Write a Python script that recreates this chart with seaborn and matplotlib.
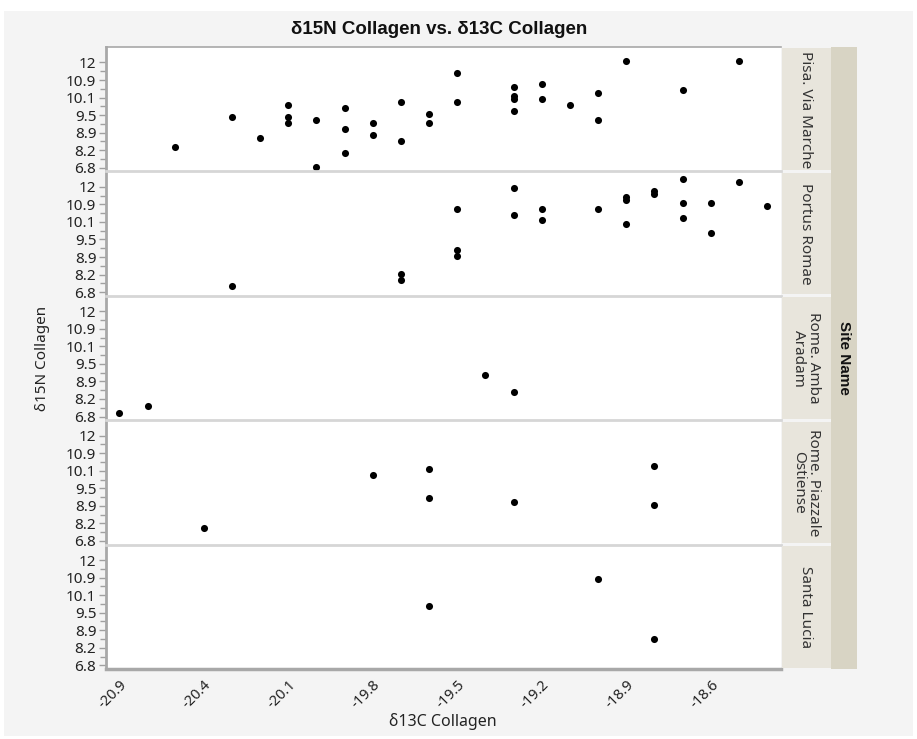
import numpy as np
import pandas as pd
import seaborn as sns
import matplotlib
matplotlib.use('Agg')
import matplotlib.pyplot as plt
from matplotlib.patches import Rectangle

# values (axis units as labelled)
sites = ['Pisa. Via Marche', 'Portus Romae', 'Rome. Amba\nAradam',
         'Rome. Piazzale\nOstiense', 'Santa Lucia']

pisa_x = [-20.57, -20.3, -20.2, -20.1, -20.1, -20.1, -20.0, -20.0, -19.9, -19.9, -19.9,
          -19.8, -19.8, -19.7, -19.7, -19.6, -19.6, -19.5, -19.5, -19.3, -19.3, -19.3,
          -19.3, -19.2, -19.2, -19.1, -19.0, -19.0, -18.9, -18.7, -18.5]
pisa_y = [8.33, 9.43, 8.70, 9.84, 9.43, 9.23, 9.33, 6.82, 9.73, 9.02, 7.99,
          9.23, 8.82, 9.94, 8.57, 9.54, 9.23, 11.37, 9.94, 10.58, 10.17, 10.05,
          9.64, 10.70, 10.05, 9.84, 10.31, 9.33, 12.12, 10.44, 12.12]

portus_x = [-20.3, -19.7, -19.7, -19.5, -19.5, -19.5, -19.3, -19.3, -19.2, -19.2, -19.0,
            -18.9, -18.9, -18.9, -18.8, -18.8, -18.7, -18.7, -18.7, -18.6, -18.6, -18.5, -18.4]
portus_y = [7.28, 8.21, 7.74, 10.70, 9.13, 8.93, 11.90, 10.41, 10.70, 10.17, 10.70,
            11.37, 11.19, 10.02, 11.73, 11.54, 12.50, 11.00, 10.29, 11.00, 9.73, 12.30, 10.82]

amba_x = [-20.9, -20.73, -19.4, -19.3]
amba_y = [7.12, 7.60, 9.13, 8.47]

ostiense_x = [-20.4, -19.8, -19.6, -19.6, -19.3, -18.8, -18.8]
ostiense_y = [7.81, 9.96, 10.18, 9.16, 9.04, 10.32, 8.94]

lucia_x = [-19.6, -19.0, -18.8]
lucia_y = [9.74, 10.85, 8.57]

x_ticks = [-20.9, -20.4, -20.1, -19.8, -19.5, -19.2, -18.9, -18.6]
x_tick_labels = ['-20.9', '-20.4', '-20.1', '-19.8', '-19.5', '-19.2', '-18.9', '-18.6']
y_ticks = [6.8, 8.2, 8.9, 9.5, 10.1, 10.9, 12]
y_tick_labels = ['6.8', '8.2', '8.9', '9.5', '10.1', '10.9', '12']

frames = []
for name, xs, ys in zip(sites, [pisa_x, portus_x, amba_x, ostiense_x, lucia_x],
                        [pisa_y, portus_y, amba_y, ostiense_y, lucia_y]):
    frames.append(pd.DataFrame({'Site Name': name, 'd13C': xs, 'd15N': ys}))
df = pd.concat(frames, ignore_index=True)

# the axes put the labelled ticks at equal distances
x_knots = np.array([x_ticks[0] - 0.5] + x_ticks + [x_ticks[-1] + 0.3, x_ticks[-1] + 0.6])
x_pos = np.arange(len(x_knots)) - 1.0
y_knots = np.array([y_ticks[0] - 1.4] + y_ticks + [y_ticks[-1] + 1.1])
y_pos = np.arange(len(y_knots)) - 1.0


def fwd_x(v):
    return np.interp(v, x_knots, x_pos)


def inv_x(p):
    return np.interp(p, x_pos, x_knots)


def fwd_y(v):
    return np.interp(v, y_knots, y_pos)


def inv_y(p):
    return np.interp(p, y_pos, y_knots)


sns.set_theme(style='white')
plt.rcParams['font.family'] = ['Noto Sans', 'DejaVu Sans']
bold_font = ['Liberation Sans', 'DejaVu Sans']

g = sns.relplot(data=df, x='d13C', y='d15N', row='Site Name', row_order=sites,
                color='black', s=26, linewidth=0, height=1.4, aspect=5,
                facet_kws={'sharex': True, 'sharey': True, 'despine': False})
g.set_titles('')
fig = g.figure
fig.set_size_inches(9.17, 7.39)

W, H = 917, 739


def fx(px):
    return px / W


def fy(py):
    return 1 - py / H


plot_left, plot_right, plot_top, plot_bottom = 106, 781, 47, 669
panel_h = (plot_bottom - plot_top) / 5
axes = list(g.axes.flat)
y_minor = inv_y(np.arange(6) + 0.5)

for i, ax in enumerate(axes):
    top = plot_top + i * panel_h
    ax.set_position([fx(plot_left), fy(top + panel_h), (plot_right - plot_left) / W, panel_h / H])
    ax.set_xscale('function', functions=(fwd_x, inv_x))
    ax.set_yscale('function', functions=(fwd_y, inv_y))
    ax.set_xlim(-20.978, -18.351)
    ax.set_ylim(6.506, 12.97)
    ax.set_yticks(y_ticks, labels=y_tick_labels)
    ax.set_yticks(y_minor, minor=True)
    ax.set_xticks(x_ticks, labels=x_tick_labels)
    ax.set_xticks([], minor=True)
    ax.set_xlabel('')
    ax.set_ylabel('')
    ax.set_facecolor('white')
    ax.tick_params(axis='y', which='major', direction='out', length=5, width=1,
                   color='#a0a0a0', labelsize=11, labelcolor='#222222', pad=2, left=True)
    ax.tick_params(axis='y', which='minor', direction='out', length=4, width=1,
                   color='#a0a0a0', left=True)
    ax.tick_params(axis='x', length=0, pad=6, labelsize=10.5, labelcolor='#222222')
    ax.spines['right'].set_visible(False)
    ax.spines['left'].set_color('#a8a8a8')
    ax.spines['left'].set_linewidth(2)
    if i == 0:
        ax.spines['top'].set_color('#a8a8a8')
        ax.spines['top'].set_linewidth(1.2)
    else:
        ax.spines['top'].set_color('#d6d6d6')
        ax.spines['top'].set_linewidth(2)
    if i == len(axes) - 1:
        ax.spines['bottom'].set_color('#a8a8a8')
        ax.spines['bottom'].set_linewidth(2.5)
    else:
        ax.spines['bottom'].set_visible(False)

for lbl in axes[-1].get_xticklabels():
    lbl.set_rotation(45)
    lbl.set_ha('right')
    lbl.set_va('top')
    lbl.set_rotation_mode('anchor')

# background and strips
fig.add_artist(Rectangle((fx(4), fy(736)), (913 - 4) / W, (736 - 11) / H,
                         transform=fig.transFigure, facecolor='#f4f4f4',
                         edgecolor='none', zorder=-5))
fig.add_artist(Rectangle((fx(831), fy(plot_bottom)), (857 - 831) / W,
                         (plot_bottom - plot_top) / H, transform=fig.transFigure,
                         facecolor='#d8d4c4', edgecolor='none', zorder=1))
for i, name in enumerate(sites):
    top = plot_top + i * panel_h
    fig.add_artist(Rectangle((fx(782), fy(top + panel_h - 1.5)), (831 - 782) / W,
                             (panel_h - 3) / H, transform=fig.transFigure,
                             facecolor='#e8e5dc', edgecolor='none', zorder=1))
    fig.text(fx(806), fy(top + panel_h / 2), name, rotation=270, ha='center', va='center',
             fontsize=11, color='#333333', linespacing=1.0, multialignment='center', zorder=2)

fig.text(fx(844), fy((plot_top + plot_bottom) / 2), 'Site Name', rotation=270,
         ha='center', va='center', fontsize=11, fontweight='bold', family=bold_font,
         color='#111111', zorder=2)

fig.text(fx(439), fy(29), 'δ15N Collagen vs. δ13C Collagen', ha='center', va='center',
         fontsize=13.5, fontweight='bold', family=bold_font, color='#111111')
fig.text(fx(43), fy(358), 'δ15N Collagen', rotation=90, ha='center', va='center',
         fontsize=11, color='#222222')
fig.text(fx(443), fy(721), 'δ13C Collagen', ha='center', va='center',
         fontsize=11.5, color='#222222')

fig.savefig('out.png', dpi=100, facecolor='white')
